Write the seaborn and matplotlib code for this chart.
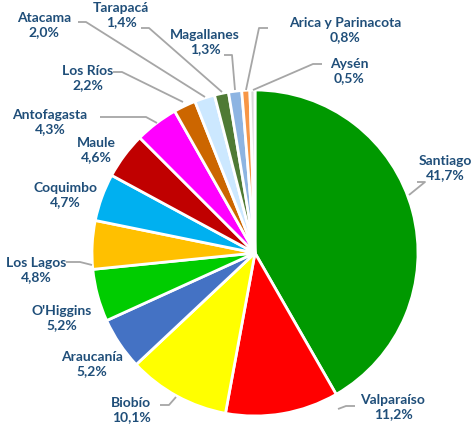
import numpy as np
import matplotlib
matplotlib.use('Agg')
import matplotlib.pyplot as plt
import seaborn as sns

regions = ['Santiago', 'Valparaíso', 'Biobío', 'Araucanía', "O'Higgins", 'Los Lagos',
           'Coquimbo', 'Maule', 'Antofagasta', 'Los Ríos', 'Atacama', 'Tarapacá',
           'Magallanes', 'Arica y Parinacota', 'Aysén']
shares = [41.7, 11.2, 10.1, 5.2, 5.2, 4.8, 4.7, 4.6, 4.3, 2.2, 2.0, 1.4, 1.3, 0.8, 0.5]
colors = ['#009900', '#FF0000', '#FFFF00', '#4472C4', '#00CC00', '#FFC000',
          '#00B0F0', '#C00000', '#FF00FF', '#CC6600', '#CCE8FF', '#4F7A35',
          '#8DB4E2', '#F79646', '#D9D9D9']

# label centres in image pixels
label_px = {
    'Santiago': (445, 168), 'Valparaíso': (393, 407), 'Biobío': (131, 410),
    'Araucanía': (92, 364), "O'Higgins": (62, 318), 'Los Lagos': (36, 270),
    'Coquimbo': (65, 195), 'Maule': (96, 150), 'Antofagasta': (50, 122),
    'Los Ríos': (88, 78), 'Atacama': (44, 25), 'Tarapacá': (121, 15),
    'Magallanes': (205, 42), 'Arica y Parinacota': (345, 30), 'Aysén': (349, 71),
}
# leader lines: start, elbow, end (image pixels)
leaders = {
    'Santiago': [(417, 182), (425, 182), (409, 195)],
    'Valparaíso': [(355, 406), (346, 406), (338, 409)],
    'Biobío': [(160, 405), (169, 405), (176, 397)],
    'Los Lagos': [(66, 262), (80, 262), (92, 265)],
    'Antofagasta': [(100, 117), (146, 117), (157, 123)],
    'Los Ríos': [(113, 72), (122, 72), (183, 102)],
    'Atacama': [(78, 22), (86, 22), (205, 97)],
    'Tarapacá': [(141, 28), (149, 28), (222, 92)],
    'Magallanes': [(224, 55), (232, 55), (235, 90)],
    'Arica y Parinacota': [(268, 28), (259, 28), (246, 90)],
    'Aysén': [(322, 64), (313, 64), (253, 90)],
}

W, H = 474, 426
cx, cy, rad = 255, 253, 163

sns.set_theme(style='white')
plt.rcParams['font.family'] = ['Lato', 'DejaVu Sans']

fig = plt.figure(figsize=(W / 100, H / 100), dpi=100)
ax = fig.add_axes([(cx - rad) / W, (H - cy - rad) / H, 2 * rad / W, 2 * rad / H])

ax.pie(shares, colors=colors, startangle=90, counterclock=False, radius=1,
       wedgeprops=dict(edgecolor='white', linewidth=2))
ax.set_xlim(-1, 1)
ax.set_ylim(-1, 1)
ax.set_aspect('equal')
ax.axis('off')


def to_data(px, py):
    return (px - cx) / rad, (cy - py) / rad


for name, v in zip(regions, shares):
    tx, ty = to_data(*label_px[name])
    txt = f"{name}\n{v:.1f}%".replace('.', ',')
    ax.text(tx, ty, txt, ha='center', va='center', fontsize=10,
            fontweight='bold', color='#1F4E79', linespacing=1.2, clip_on=False)
    if name in leaders:
        pts = np.array([to_data(*p) for p in leaders[name]])
        ax.plot(pts[:, 0], pts[:, 1], color='#A6A6A6', lw=1.3,
                clip_on=False, solid_capstyle='butt')

fig.savefig('out.png', dpi=100)
